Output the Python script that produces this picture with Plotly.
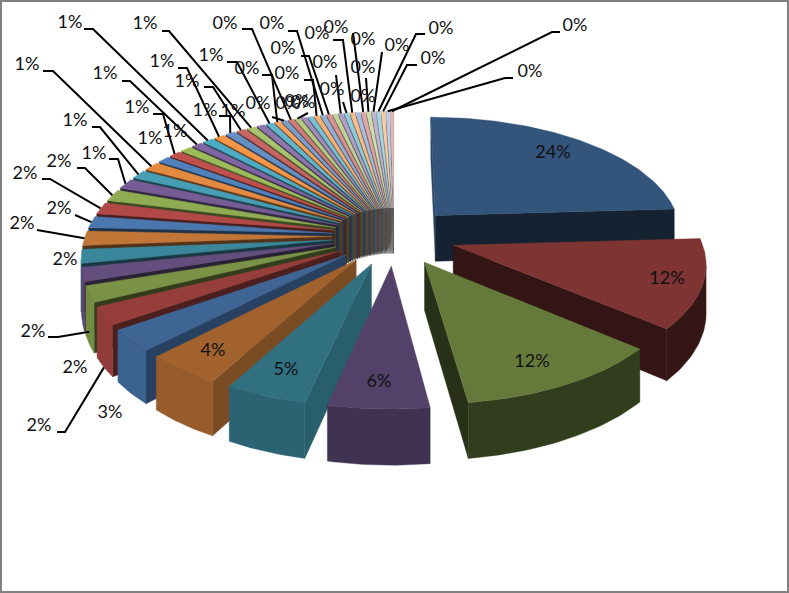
import math
import plotly.graph_objects as go

# ---- data (percent of the whole, clockwise from 12 o'clock)
big_values = [24.1, 12.1, 11.7, 5.6, 4.55, 4.3]
three_pct_values = [3.0]
two_pct_values = [2.45, 2.2, 1.9, 1.9, 2.0, 1.6, 1.6, 1.6]
one_pct_values = [1.4, 1.2, 1.2, 0.9, 0.9, 0.85, 0.8, 0.8, 0.8, 0.75, 0.7, 0.65, 0.6, 0.55]
zero_pct_values = [0.44, 0.43, 0.42, 0.41, 0.40, 0.39, 0.38, 0.38, 0.37, 0.36, 0.35,
                   0.35, 0.34, 0.33, 0.32, 0.31, 0.30, 0.29, 0.28, 0.26, 0.25]
values = big_values + three_pct_values + two_pct_values + one_pct_values + zero_pct_values

# ---- layout of the data labels, in pixels of the picture, one per slice:
# (label x, label y, elbow points of the leader line; None = no leader line)
label_layout = [
    (553, 152, None), (667, 278, None), (532, 361, None), (379, 381, None), (286, 369, None), (213, 350, None),
    (110, 412, None),
    (39, 425, [(57, 432), (65, 432)]),
    (33, 331, [(48, 337), (58, 337)]),
    (75, 367, None),
    (65, 259, None),
    (22, 223, [(37, 230)]),
    (59, 208, [(75, 215)]),
    (25, 173, [(42, 179), (50, 179)]),
    (59, 161, [(77, 168), (85, 168)]),
    (94, 153, [(109, 159), (118, 159)]),
    (75, 120, [(92, 127), (100, 127)]),
    (27, 64, [(43, 71), (53, 71)]),
    (150, 138, None),
    (137, 107, [(153, 114), (163, 114)]),
    (175, 131, None),
    (105, 73, [(122, 81), (130, 81)]),
    (70, 22, [(84, 29), (93, 29)]),
    (162, 61, [(178, 68), (187, 68)]),
    (205, 110, [(219, 116), (230, 116)]),
    (187, 81, [(204, 87), (213, 87)]),
    (145, 23, [(162, 31), (169, 31)]),
    (233, 111, None),
    (211, 55, [(227, 62), (237, 62)]),
    (247, 68, [(262, 75), (272, 75)]),
    (258, 103, [(272, 117)]),
    (225, 23, [(242, 29), (252, 29)]),
    (288, 103, [(308, 113)]),
    (297, 101, None),
    (303, 102, None),
    (287, 73, [(304, 80), (313, 80)]),
    (272, 23, [(288, 31), (297, 31)]),
    (283, 48, [(301, 56), (309, 56)]),
    (317, 33, None),
    (325, 62, [(336, 75)]),
    (332, 89, [(343, 102)]),
    (336, 27, [(333, 40), (343, 40)]),
    (363, 96, None),
    (363, 39, [(353, 33)]),
    (363, 67, [(366, 78)]),
    (397, 45, [(382, 52)]),
    (441, 28, [(425, 34), (416, 34)]),
    (433, 58, [(417, 65), (407, 65)]),
    (530, 71, [(513, 78), (505, 78)]),
    (575, 25, [(560, 32), (552, 32)]),
]
# leaders that end low on the wall of their slice (fraction of the wall's height)
leader_wall = {7: 1.0, 8: 0.75}

# ---- styles
BASE = [(79, 129, 189), (192, 80, 77), (155, 187, 89), (128, 100, 162), (75, 172, 198), (247, 150, 70)]
CYCLE_TONE = [-0.35, -0.22, -0.08, 0.0, 0.12, 0.25, 0.38, 0.50, 0.60]

CX, CY = 394.0, 236.0
RX, KY = 247.0, 116.0
DEPTH = 47.0
PERSP = 0.13
EXPLODE = 0.25


def project(x, y, z):
    s = 1.0 / (1.0 - PERSP * y)
    return CX + RX * x * s, CY + (KY * y + DEPTH * z) * s


def tone(rgb, t):
    if t < 0:
        return tuple(c * (1 + t) for c in rgb)
    return tuple(c + (255 - c) * t for c in rgb)


def css(rgb, f=1.0):
    return "rgb(%d,%d,%d)" % tuple(min(255, round(c * f)) for c in rgb)


def signed_area(poly):
    a = 0.0
    for i in range(len(poly)):
        x0, y0 = poly[i]
        x1, y1 = poly[(i + 1) % len(poly)]
        a += x0 * y1 - x1 * y0
    return a / 2


def rim_shade(theta):
    nx, ny = math.sin(theta), -math.cos(theta)
    return 0.42 + 0.55 * max(0.0, -0.8 * nx + 0.6 * ny)


def start_cut_shade(theta):
    deg = math.degrees(theta)
    if deg < 228:
        return min(0.85, 0.62 + (228 - deg) * 0.0077)
    return max(0.42, 0.62 - (deg - 228) * 0.0167)


fig = go.Figure()


def add_poly(poly, color):
    fig.add_trace(go.Scatter(
        x=[p[0] for p in poly] + [poly[0][0]],
        y=[p[1] for p in poly] + [poly[0][1]],
        mode="lines", fill="toself", fillcolor=color,
        line=dict(color=color, width=0.4), hoverinfo="skip", showlegend=False))


total = sum(values)
slices = []
acc = 0.0
for i, v in enumerate(values):
    a0 = acc / total * 2 * math.pi
    acc += v
    a1 = acc / total * 2 * math.pi
    slices.append((i, a0, a1))


def slice_offset(a0, a1):
    mid = (a0 + a1) / 2
    return EXPLODE * math.sin(mid), -EXPLODE * math.cos(mid)


def rim_point(ox, oy, t):
    return ox + math.sin(t), oy - math.cos(t)


for i, a0, a1 in sorted(slices, key=lambda s: -math.cos((s[1] + s[2]) / 2)):
    rgb = tone(BASE[i % 6], CYCLE_TONE[i // 6])
    ox, oy = slice_offset(a0, a1)
    n = max(2, int((a1 - a0) / math.radians(1.0)) + 1)
    ts = [a0 + (a1 - a0) * j / n for j in range(n + 1)]
    rim = [rim_point(ox, oy, t) for t in ts]

    # cut faces
    for edge, sign, shade in ((rim[0], 1, start_cut_shade(a0)), (rim[-1], -1, 0.40)):
        q = [project(ox, oy, 0), project(*edge, 0), project(*edge, 1), project(ox, oy, 1)]
        if sign * signed_area(q) < 0:
            add_poly(q, css(rgb, shade))

    # outer wall: only the stretches that face the viewer
    vis = []
    for j in range(n):
        q = [project(*rim[j], 0), project(*rim[j + 1], 0), project(*rim[j + 1], 1), project(*rim[j], 1)]
        if signed_area(q) < 0:
            vis.append(j)
    if vis:
        j0, j1 = vis[0], vis[-1] + 1
        top = [project(*rim[j], 0) for j in range(j0, j1 + 1)]
        bot = [project(*rim[j], 1) for j in range(j1, j0 - 1, -1)]
        add_poly(top + bot, css(rgb, rim_shade((ts[j0] + ts[j1]) / 2)))

    # top surface
    add_poly([project(ox, oy, 0)] + [project(*p, 0) for p in rim], css(rgb))

# leader lines: from the label's elbow to the slice's rim
for (i, a0, a1), (lx, ly, elbow) in zip(slices, label_layout):
    if not elbow:
        continue
    ox, oy = slice_offset(a0, a1)
    end = project(*rim_point(ox, oy, (a0 + a1) / 2), leader_wall.get(i, 0))
    fig.add_trace(go.Scatter(
        x=[p[0] for p in elbow] + [end[0]], y=[p[1] for p in elbow] + [end[1]],
        mode="lines", line=dict(color="#000000", width=2), hoverinfo="skip", showlegend=False))

fig.add_trace(go.Scatter(
    x=[p[0] for p in label_layout], y=[p[1] + 1.5 for p in label_layout],
    text=["%d%%" % round(v / total * 100) for v in values],
    mode="text", textposition="middle center",
    textfont=dict(family="Lato", size=18, color="#111111"),
    hoverinfo="skip", showlegend=False))

fig.update_layout(
    width=789, height=593, margin=dict(l=0, r=0, t=0, b=0),
    paper_bgcolor="white", plot_bgcolor="white", showlegend=False,
    xaxis=dict(range=[0, 789], visible=False, fixedrange=True),
    yaxis=dict(range=[593, 0], visible=False, fixedrange=True),
    shapes=[dict(type="rect", xref="x", yref="y", x0=1, y0=1, x1=788, y1=592,
                 line=dict(color="#808080", width=2))],
)
fig.write_html("out.html", config={"displayModeBar": False},
               post_script="document.body.style.margin='0';document.body.style.overflow='hidden';")
